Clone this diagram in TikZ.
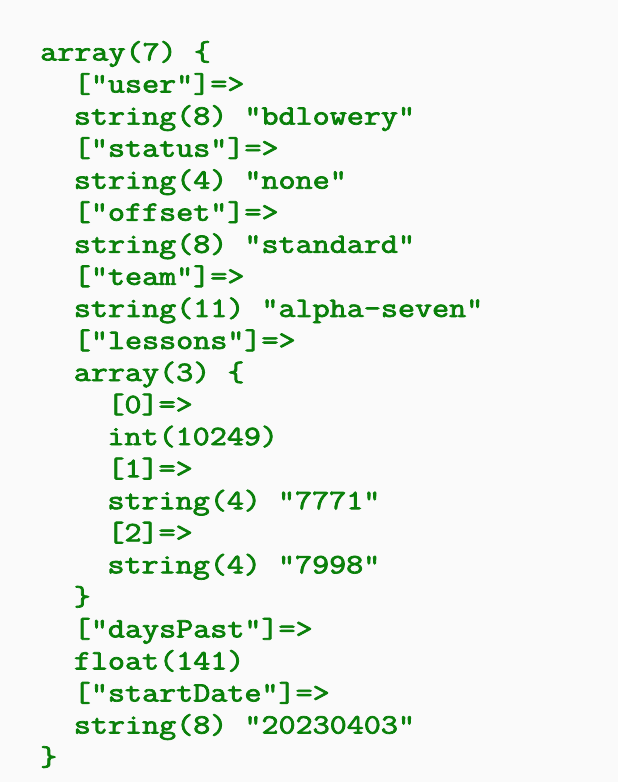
\documentclass[tikz,border=0pt]{standalone}
\usepackage{fontspec}
\usepackage{xcolor}
\usepackage{tikz}
\usetikzlibrary{positioning}

\definecolor{dumpgreen}{RGB}{10,128,10}
\definecolor{dumpbg}{RGB}{250,250,250}
% heavier strokes, like the reference's Courier
\newcommand{\heavytext}[1]{\special{pdf:literal 2 Tr 0.7 w}#1\special{pdf:literal 0 Tr}}

\begin{document}
\begin{tikzpicture}[x=1pt,y=1pt,
    dumpline/.style={anchor=base west, inner sep=0pt, text=dumpgreen,
        font=\fontsize{28}{32}\selectfont\ttfamily, xscale=1.183}]
    % page
    \fill[dumpbg] (0,0) rectangle (618,-782);
    \useasboundingbox (0,0) rectangle (618,-782);

    % one node per printed line: level/text
    \foreach \lvl/\txt [count=\i from 0] in {
        0/{array(7) \{},
        1/{["user"]=>},
        1/{string(8) "bdlowery"},
        1/{["status"]=>},
        1/{string(4) "none"},
        1/{["offset"]=>},
        1/{string(8) "standard"},
        1/{["team"]=>},
        1/{string(11) "alpha-seven"},
        1/{["lessons"]=>},
        1/{array(3) \{},
        2/{[0]=>},
        2/{int(10249)},
        2/{[1]=>},
        2/{string(4) "7771"},
        2/{[2]=>},
        2/{string(4) "7998"},
        1/{\}},
        1/{["daysPast"]=>},
        1/{float(141)},
        1/{["startDate"]=>},
        1/{string(8) "20230403"},
        0/{\}}}
        \node[dumpline] (line\i) at (40+33.6*\lvl, -60.5-32.05*\i) {\heavytext{\txt}};
\end{tikzpicture}
\end{document}
